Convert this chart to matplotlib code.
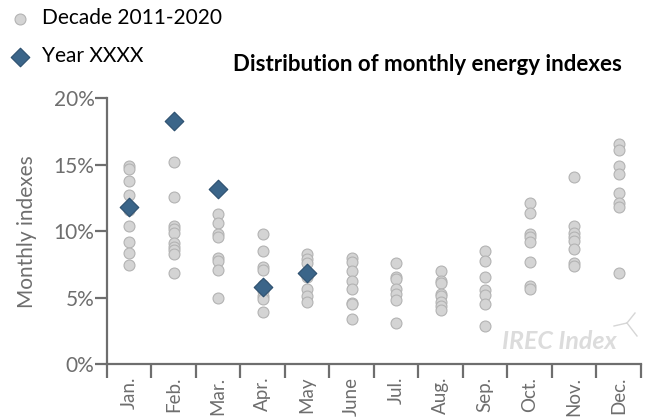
import matplotlib
matplotlib.use("Agg")
import matplotlib.pyplot as plt
from matplotlib.lines import Line2D

plt.rcParams['font.family'] = ['Lato', 'DejaVu Sans']

# --- datos ---
months = ['Jan.', 'Feb.', 'Mar.', 'Apr.', 'May', 'June',
          'Jul.', 'Aug.', 'Sep.', 'Oct.', 'Nov.', 'Dec.']

# indices mensuales (%) de la decada 2011-2020
decade_values = [
    [14.9, 14.7, 13.8, 12.7, 11.6, 10.4, 9.2, 8.4, 7.5],
    [15.2, 12.6, 10.4, 10.2, 9.9, 9.1, 8.8, 8.6, 8.3, 6.9],
    [11.3, 10.6, 9.8, 9.6, 8.0, 7.8, 7.1, 5.0],
    [9.8, 8.5, 7.3, 7.1, 6.0, 5.5, 5.1, 4.9, 3.9],
    [8.3, 7.9, 7.6, 6.6, 5.7, 5.1, 4.7],
    [8.0, 7.7, 7.0, 6.3, 5.7, 4.6, 4.5, 3.4],
    [7.6, 6.6, 6.4, 5.7, 5.3, 4.8, 3.1],
    [7.0, 6.3, 6.1, 5.3, 5.1, 4.7, 4.4, 4.1],
    [8.5, 7.8, 6.6, 5.6, 5.2, 4.5, 2.9],
    [12.1, 11.4, 9.8, 9.6, 9.2, 7.7, 5.9, 5.7],
    [14.1, 10.4, 9.9, 9.6, 9.3, 8.7, 7.6, 7.4],
    [16.6, 16.1, 14.9, 14.3, 12.9, 12.1, 11.8, 6.9],
]

# año en curso (solo primeros meses)
year_values = [11.8, 18.3, 13.2, 5.8, 6.9]

yticks = [0, 5, 10, 15, 20]

# --- figura ---
GRAY = '#6e6e6e'
FS = 15
fig = plt.figure(figsize=(6.52, 4.19), dpi=100)
ax = fig.add_axes([0.1641, 0.1305, 0.8190, 0.6349])

xs, ys = [], []
for i, vals in enumerate(decade_values):
    xs += [i] * len(vals)
    ys += vals
sc_dec = ax.scatter(xs, ys, s=62, c='#d4d4d4', edgecolors='#b3b3b3',
                    linewidths=0.8, zorder=2, label='Decade 2011-2020')
sc_year = ax.scatter(range(len(year_values)), year_values, marker='D', s=90,
                     c='#3b6589', edgecolors='#2c4f6e', linewidths=0.8,
                     zorder=3, label='Year XXXX')

ax.set_xlim(-0.5, 11.5)
ax.set_ylim(0, 20)

# ejes
for side in ['top', 'right']:
    ax.spines[side].set_visible(False)
for side in ['left', 'bottom']:
    ax.spines[side].set_color(GRAY)
    ax.spines[side].set_linewidth(1.6)

ax.set_yticks(yticks)
ax.set_yticklabels([f'{t}%' for t in yticks])
ax.tick_params(axis='y', length=9, width=1.6, color=GRAY,
               labelcolor=GRAY, labelsize=FS, pad=0)

# ticks mayores en los limites, etiquetas en los centros
ax.set_xticks([i - 0.5 for i in range(13)])
ax.set_xticklabels([])
ax.tick_params(axis='x', which='major', length=10, width=1.6, color=GRAY)
ax.set_xticks(range(12), minor=True)
ax.set_xticklabels(months, minor=True, rotation=90)
ax.tick_params(axis='x', which='minor', length=0, labelcolor=GRAY,
               labelsize=13.5, pad=9)

ax.set_ylabel('Monthly indexes', color=GRAY, fontsize=FS, labelpad=12)

fig.text(0.655, 0.845, 'Distribution of monthly energy indexes',
         ha='center', va='center', fontsize=16, fontweight='bold')

fig.legend(handles=[sc_dec, sc_year], loc='upper left',
           bbox_to_anchor=(-0.018, 1.015), frameon=False, fontsize=FS,
           labelspacing=0.85, handletextpad=0.3, handlelength=1.6,
           borderaxespad=0.3)

# marca de agua
ax.text(0.955, 0.084, 'IREC Index', transform=ax.transAxes, ha='right',
        va='center', fontsize=18, fontweight='bold', style='italic',
        color='#dcdcdc')
hub = (627 / 652, 1 - 323 / 419)
for tip in [(635, 313), (614, 326), (637, 336)]:
    fig.add_artist(Line2D([hub[0], tip[0] / 652], [hub[1], 1 - tip[1] / 419],
                          color='#d6d6d6', lw=1.0))

fig.savefig('out.png', dpi=100)
